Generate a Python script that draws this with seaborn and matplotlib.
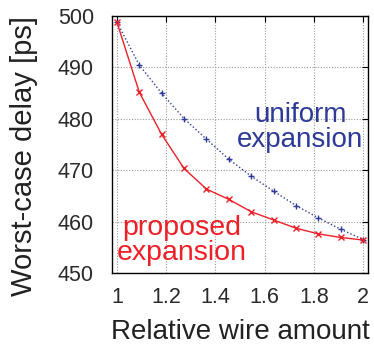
import matplotlib
matplotlib.use("Agg")
import matplotlib.pyplot as plt
import seaborn as sns
import pandas as pd

wire_amount = [1.0, 1.0909, 1.1818, 1.2727, 1.3636, 1.4545, 1.5455, 1.6364, 1.7273, 1.8182, 1.9091, 2.0]
proposed = [498.7, 485.1, 476.9, 470.3, 466.3, 464.3, 461.9, 460.3, 458.7, 457.6, 456.9, 456.4]
uniform = [498.7, 490.4, 484.9, 480.0, 476.0, 472.1, 468.8, 465.9, 463.1, 460.7, 458.5, 456.5]
xticks = [1, 1.2, 1.4, 1.6, 1.8, 2]
xtick_labels = ["1", "1.2", "1.4", "1.6", "1.8", "2"]
yticks = [450, 460, 470, 480, 490, 500]

RED = "#ee1f26"
BLUE = "#2e3a98"

sns.set_style("white")
plt.rcParams["font.family"] = ["Liberation Sans", "DejaVu Sans"]

fig = plt.figure(figsize=(3.74, 3.46), dpi=100)
ax = fig.add_axes([0.2995, 0.211, 0.6845, 0.744])

df_u = pd.DataFrame({"x": wire_amount, "y": uniform})
df_p = pd.DataFrame({"x": wire_amount, "y": proposed})

sns.lineplot(data=df_u, x="x", y="y", ax=ax, color=BLUE, linestyle=(0, (1, 1.6)),
             linewidth=1.0, marker="+", markersize=4, markeredgewidth=1.0,
             markeredgecolor=BLUE, zorder=3)
sns.lineplot(data=df_p, x="x", y="y", ax=ax, color=RED, linestyle="-",
             linewidth=1.0, marker="x", markersize=4.5, markeredgewidth=1.0,
             markeredgecolor=RED, zorder=4)

ax.set_xlim(0.98, 2.02)
ax.set_ylim(450, 500)
ax.set_xticks(xticks)
ax.set_xticklabels(xtick_labels)
ax.set_yticks(yticks)

ax.grid(True, color="#999999", linestyle=(0, (1, 1.5)), linewidth=0.8)
ax.set_axisbelow(True)

for s in ax.spines.values():
    s.set_visible(True)
    s.set_color("black")
    s.set_linewidth(1.0)

ax.tick_params(axis="both", which="major", direction="in", length=4, width=0.8,
               top=True, right=True, labelsize=15.5, colors="black",
               labelcolor="#2a2a2a")
ax.tick_params(axis="x", pad=10)
ax.tick_params(axis="y", pad=13)

ax.set_xlabel("Relative wire amount", fontsize=20, color="#222222", labelpad=8)
ax.set_ylabel("Worst-case delay [ps]", fontsize=21, color="#222222")
ax.yaxis.set_label_coords(-0.29, 0.455)

ax.text(1.745, 478.3, "uniform\nexpansion", color=BLUE, fontsize=20,
        ha="center", va="center", linespacing=0.95, zorder=5)
ax.text(1.265, 456.4, "proposed\nexpansion", color=RED, fontsize=20.5,
        ha="center", va="center", linespacing=0.95, zorder=5)

fig.savefig("out.png", dpi=100)
